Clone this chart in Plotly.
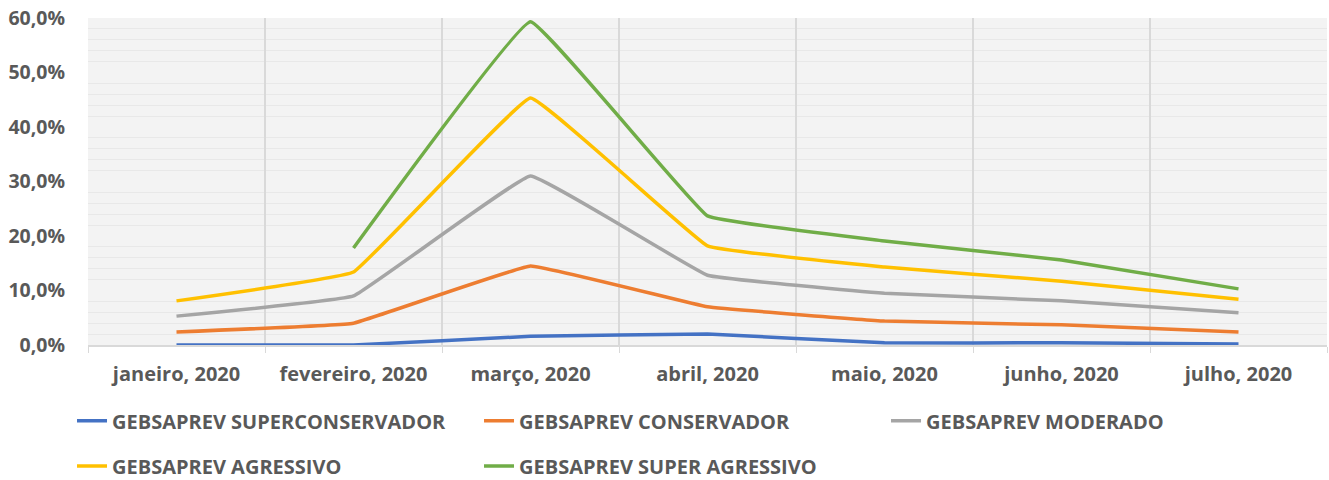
import plotly.graph_objects as go

# categorias (meses)
meses = ["janeiro, 2020", "fevereiro, 2020", "março, 2020", "abril, 2020",
         "maio, 2020", "junho, 2020", "julho, 2020"]

# rentabilidade por perfil (fração)
superconservador = [0.000, 0.000, 0.016, 0.020, 0.004, 0.004, 0.002]
conservador = [0.024, 0.040, 0.145, 0.070, 0.044, 0.037, 0.024]
moderado = [0.053, 0.090, 0.310, 0.128, 0.095, 0.081, 0.059]
agressivo = [0.081, 0.134, 0.453, 0.182, 0.143, 0.117, 0.084]
super_agressivo = [None, 0.178, 0.593, 0.237, 0.191, 0.156, 0.103]

series = [
    ("GEBSAPREV SUPERCONSERVADOR", superconservador, "#4472C4", "legend"),
    ("GEBSAPREV CONSERVADOR", conservador, "#ED7D31", "legend"),
    ("GEBSAPREV MODERADO", moderado, "#A5A5A5", "legend"),
    ("GEBSAPREV AGRESSIVO", agressivo, "#FFC000", "legend2"),
    ("GEBSAPREV SUPER AGRESSIVO", super_agressivo, "#70AD47", "legend2"),
]

fonte = "Open Sans"
cinza = "#595959"

fig = go.Figure()
for nome, vals, cor, leg in series:
    fig.add_trace(go.Scatter(
        x=meses, y=vals, name=nome, mode="lines", legend=leg,
        line=dict(color=cor, width=3.5, shape="spline", smoothing=0.2),
        connectgaps=False,
    ))

leg_base = dict(
    orientation="h", x=-0.0129, xanchor="left", yanchor="middle",
    font=dict(family=fonte, size=20, color=cinza, weight="bold"),
    entrywidth=362, entrywidthmode="pixels",
    bgcolor="rgba(0,0,0,0)",
)

# figura um pouco mais alta que a janela para a legenda não empurrar a margem
fig.update_layout(
    width=1329, height=488,
    margin=dict(l=88, r=2, t=18, b=143),
    paper_bgcolor="white",
    plot_bgcolor="#f3f3f3",
    separators=",.",
    font=dict(family=fonte, color=cinza),
    showlegend=True,
    legend=dict(leg_base, y=-0.232),
    legend2=dict(leg_base, y=-0.370),
)

fig.update_xaxes(
    type="category", tickson="boundaries", automargin=False,
    showgrid=True, gridcolor="#d9d9d9", gridwidth=1.5,
    showline=True, linecolor="#d9d9d9", linewidth=1.5,
    ticks="outside", ticklen=6, tickcolor="#d9d9d9",
    tickfont=dict(family=fonte, size=20, color=cinza, weight="bold"),
    ticklabelstandoff=10,
    range=[-0.5, 6.5],
)
fig.update_yaxes(
    range=[0, 0.6], dtick=0.1, tickformat=".1%", automargin=False,
    showgrid=False, zeroline=False, ticklabeloverflow="allow",
    minor=dict(dtick=0.02, showgrid=True, gridcolor="#e8e8e8", gridwidth=1),
    tickfont=dict(family=fonte, size=19.5, color=cinza, weight="bold"),
    ticklabelstandoff=22,
)

# tira a margem padrão do body da página
fig.write_html("out.html", config={"displayModeBar": False},
               post_script="document.body.style.margin='0';")
